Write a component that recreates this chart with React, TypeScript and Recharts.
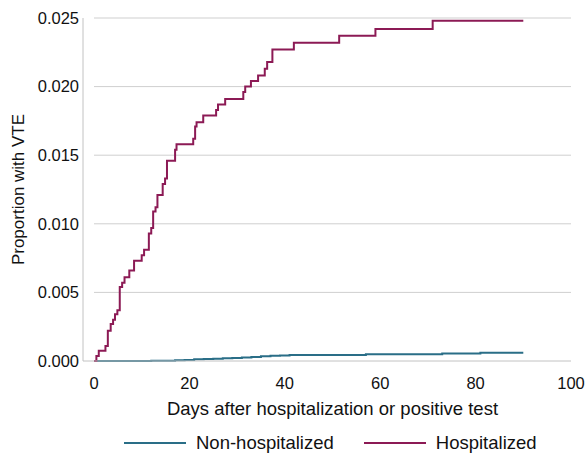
import React from "react";
import {
  LineChart,
  Line,
  XAxis,
  YAxis,
  ReferenceLine,
  Legend,
} from "recharts";

// Kaplan–Meier style cumulative incidence (step) data
const hospDays = [
  0, 0.5, 1, 2.4, 2.9, 3.5, 4, 4.4, 4.9, 5.4, 5.9, 6.4, 7.4, 8.4, 10, 10.5, 11.5,
  12, 12.4, 12.9, 13.3, 14.4, 14.9, 15.3, 17, 17.3, 20.8, 21.2, 21.5, 22.9, 25.6,
  26, 27.5, 31.3, 31.7, 32.9, 34.4, 35.8, 36.3, 37.4, 41.9, 51.4, 59, 71, 90,
];
const hospValues = [
  0, 0.00036, 0.00075, 0.0011, 0.0022, 0.0027, 0.003, 0.0034, 0.0037, 0.0054,
  0.0057, 0.0061, 0.0066, 0.0073, 0.0077, 0.0081, 0.0093, 0.0097, 0.0109, 0.0112,
  0.0121, 0.0129, 0.0133, 0.0146, 0.0154, 0.0158, 0.0162, 0.0171, 0.0174, 0.0179,
  0.0183, 0.0187, 0.0191, 0.0196, 0.02, 0.0204, 0.0208, 0.0213, 0.0218, 0.0227,
  0.0232, 0.0237, 0.0242, 0.0248, 0.0248,
];

const nonHospDays = [
  0, 12, 15, 17, 19, 21, 23, 25, 27, 29, 31, 33, 35, 37, 39, 41, 46, 57, 73, 81,
  90,
];
const nonHospValues = [
  0, 0.00001, 0.00002, 0.00005, 0.00008, 0.00012, 0.00015, 0.00017, 0.0002,
  0.00022, 0.00026, 0.0003, 0.00035, 0.00038, 0.0004, 0.00043, 0.00044, 0.00049,
  0.00055, 0.0006, 0.0006,
];

const xTicks = [0, 20, 40, 60, 80, 100];
const yTicks = [0, 0.005, 0.01, 0.015, 0.02, 0.025];
const gridValues = [0.005, 0.01, 0.015, 0.02, 0.025];

const seriesNames = ["Non-hospitalized", "Hospitalized"];
const seriesColors = ["#2a6e87", "#8c1a55"];

const hospData = hospDays.map((d, i) => ({ day: d, value: hospValues[i] }));
const nonHospData = nonHospDays.map((d, i) => ({ day: d, value: nonHospValues[i] }));

const FONT = "'Liberation Sans', Arial, Helvetica, sans-serif";

const LegendContent = () => (
  <div
    style={{
      height: 30,
      display: "flex",
      alignItems: "center",
      paddingLeft: 124,
      paddingTop: 4,
      boxSizing: "border-box",
      fontFamily: FONT,
      fontSize: 18.5,
      color: "#111",
    }}
  >
    {seriesNames.map((name, i) => (
      <div
        key={name}
        style={{ display: "flex", alignItems: "center", marginRight: i === 0 ? 30 : 0 }}
      >
        <span
          style={{
            display: "inline-block",
            width: 62,
            height: 2,
            background: seriesColors[i],
            marginRight: 10,
          }}
        />
        <span>{name}</span>
      </div>
    ))}
  </div>
);

const YTitle = (props: any) => {
  const vb = props.viewBox || {};
  const cy = (vb.y ?? 18) + (vb.height ?? 343) / 2;
  const x = 24;
  return (
    <text
      x={x}
      y={cy}
      transform={`rotate(-90, ${x}, ${cy})`}
      textAnchor="middle"
      fontFamily={FONT}
      fontSize={17}
      fill="#111"
    >
      Proportion with VTE
    </text>
  );
};

const XTitle = () => (
  <text
    x={332.5}
    y={415}
    textAnchor="middle"
    fontFamily={FONT}
    fontSize={18.5}
    fill="#111"
  >
    Days after hospitalization or positive test
  </text>
);

export default function App() {
  return (
    <div style={{ position: "absolute", left: 0, top: 0 }}>
      <LineChart
        width={585}
        height={456}
        margin={{ top: 18, right: 14, bottom: 0, left: 0 }}
      >
        <XAxis
          type="number"
          dataKey="day"
          domain={[-2.306, 100]}
          ticks={xTicks}
          allowDataOverflow
          axisLine={{ stroke: "#c2c2c2", strokeWidth: 1 }}
          tickLine={false}
          tickSize={0}
          tickMargin={16}
          height={65}
          tick={{ fontFamily: FONT, fontSize: 16.5, fill: "#111" }}
          label={<XTitle />}
        />
        <YAxis
          type="number"
          domain={[0, 0.025]}
          ticks={yTicks}
          width={83}
          axisLine={{ stroke: "#c2c2c2", strokeWidth: 1 }}
          tickLine={false}
          tickSize={0}
          tickMargin={4}
          tickFormatter={(v: number) => v.toFixed(3)}
          tick={{ fontFamily: FONT, fontSize: 16.5, fill: "#111" }}
          label={<YTitle />}
        />
        {gridValues.map((g) => (
          <ReferenceLine
            key={g}
            segment={[
              { x: 0, y: g },
              { x: 100, y: g },
            ]}
            stroke="#cfcfcf"
            strokeWidth={1}
          />
        ))}
        <Legend verticalAlign="bottom" content={<LegendContent />} />
        <Line
          data={nonHospData}
          dataKey="value"
          name={seriesNames[0]}
          type="stepAfter"
          stroke={seriesColors[0]}
          strokeWidth={2}
          dot={false}
          activeDot={false}
          isAnimationActive={false}
        />
        <Line
          data={hospData}
          dataKey="value"
          name={seriesNames[1]}
          type="stepAfter"
          stroke={seriesColors[1]}
          strokeWidth={2}
          dot={false}
          activeDot={false}
          isAnimationActive={false}
        />
      </LineChart>
    </div>
  );
}
